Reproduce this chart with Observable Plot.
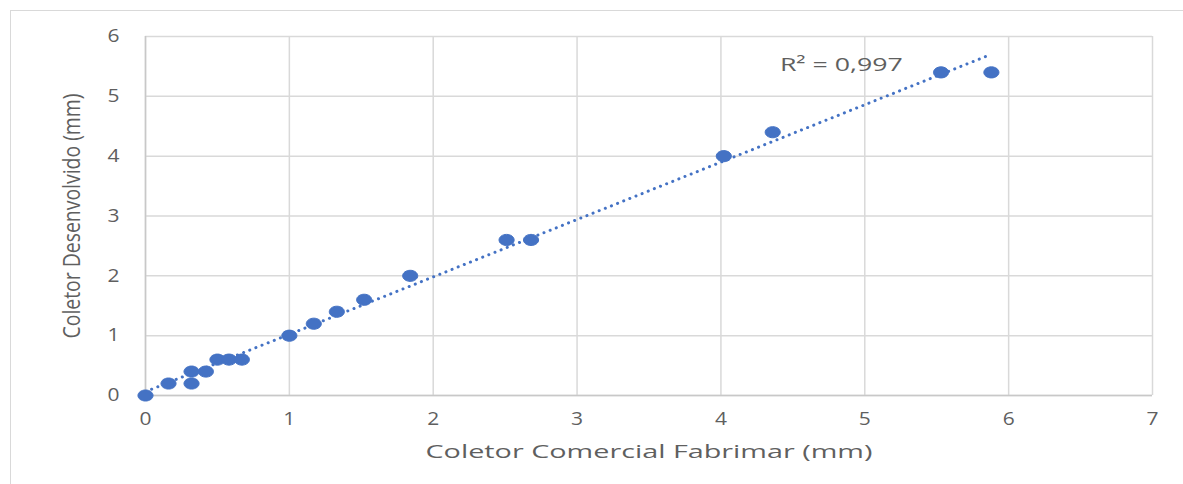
<!DOCTYPE html>
<html>
<head>
<meta charset="utf-8">
<script src="https://cdn.jsdelivr.net/npm/d3@7"></script>
<script src="https://cdn.jsdelivr.net/npm/@observablehq/plot@0.6"></script>
<style>
  html, body { margin: 0; padding: 0; background: #fff; }
  #wrap { position: relative; width: 1183px; height: 484px; overflow: hidden; }
  #frame { position: absolute; left: 10px; top: 10px; width: 1180px; height: 480px; border: 1px solid #d9d9d9; box-sizing: border-box; pointer-events: none; }
  #chart { position: absolute; left: 0; top: 0; }
</style>
</head>
<body>
<div id="wrap"><div id="frame"></div><div id="chart"></div></div>
<script>
// Data
const comercial = [0, 0.16, 0.32, 0.32, 0.42, 0.5, 0.58, 0.67, 1.0, 1.17, 1.33, 1.52, 1.84, 2.51, 2.68, 4.02, 4.36, 5.53, 5.88];
const desenvolvido = [0, 0.2, 0.4, 0.2, 0.4, 0.6, 0.6, 0.6, 1.0, 1.2, 1.4, 1.6, 2.0, 2.6, 2.6, 4.0, 4.4, 5.4, 5.4];
const xTicks = [0, 1, 2, 3, 4, 5, 6, 7];
const yTicks = [0, 1, 2, 3, 4, 5, 6];
const xTitle = "Coletor Comercial Fabrimar (mm)";
const yTitle = "Coletor Desenvolvido (mm)";
const r2Label = "R² = 0,997";

const data = comercial.map((x, i) => ({x, y: desenvolvido[i]}));
const lastPoint = [data[data.length - 1]];

const blue = "#4472C4";
const grid = "#d9d9d9";
const textColor = "#5f5f5f";

// Slightly wide elliptical marker, like the reference's
const ellipse = {
  draw(context, size) {
    const r = Math.sqrt(size / Math.PI);
    const rx = r * 1.2, ry = r * 0.88, k = 0.5523;
    context.moveTo(rx, 0);
    context.bezierCurveTo(rx, ry * k, rx * k, ry, 0, ry);
    context.bezierCurveTo(-rx * k, ry, -rx, ry * k, -rx, 0);
    context.bezierCurveTo(-rx, -ry * k, -rx * k, -ry, 0, -ry);
    context.bezierCurveTo(rx * k, -ry, rx, -ry * k, rx, 0);
    context.closePath();
  }
};

const chart = Plot.plot({
  width: 1183,
  height: 484,
  marginLeft: 145,
  marginRight: 31,
  marginTop: 36,
  marginBottom: 89,
  style: { fontFamily: "'Open Sans', sans-serif", fontSize: "16px", color: textColor, background: "transparent" },
  x: { domain: [0, 7], ticks: xTicks },
  y: { domain: [0, 6], ticks: yTicks },
  marks: [
    Plot.gridX(xTicks, { stroke: grid, strokeOpacity: 1, strokeWidth: 1.5 }),
    Plot.gridY(yTicks, { stroke: grid, strokeOpacity: 1, strokeWidth: 1.5 }),
    Plot.ruleX([0], { stroke: "#c8c8c8", strokeWidth: 1.5 }),
    Plot.ruleY([0], { stroke: "#c8c8c8", strokeWidth: 1.5 }),
    Plot.axisX(xTicks, { tickSize: 0, tickPadding: 17, tickFormat: "d", fill: textColor, label: xTitle, labelAnchor: "center", labelArrow: "none", labelOffset: 62, fontSize: 18 }),
    Plot.axisY(yTicks, { tickSize: 0, tickPadding: 26, tickFormat: "d", fill: textColor, label: yTitle, labelAnchor: "center", labelArrow: "none", labelOffset: 82, fontSize: 18 }),
    Plot.linearRegressionY(data, { x: "x", y: "y", ci: 0, stroke: blue, strokeWidth: 3, strokeDasharray: "0.1,6.5", strokeLinecap: "round" }),
    Plot.dot(data, { x: "x", y: "y", r: 6.3, symbol: ellipse, fill: blue, stroke: blue, strokeWidth: 1 }),
    Plot.text(lastPoint, { x: "x", y: "y", text: () => r2Label, dx: -150, dy: -7, fill: textColor, fontSize: 19 })
  ]
});

document.getElementById("chart").appendChild(chart);

// Stretch texts to the widths seen in the reference
function stretch(sel, len, size) {
  chart.querySelectorAll(sel).forEach(t => {
    t.setAttribute("textLength", len);
    t.setAttribute("lengthAdjust", "spacingAndGlyphs");
    if (size) t.setAttribute("font-size", size);
  });
}
stretch('[aria-label="x-axis label"] text', 447, 19);
stretch('[aria-label="y-axis label"] text', 245, 23);
stretch('[aria-label="x-axis tick label"] text', 12);
stretch('[aria-label="y-axis tick label"] text', 12);
stretch('[aria-label="text"] text', 123);
</script>
</body>
</html>
